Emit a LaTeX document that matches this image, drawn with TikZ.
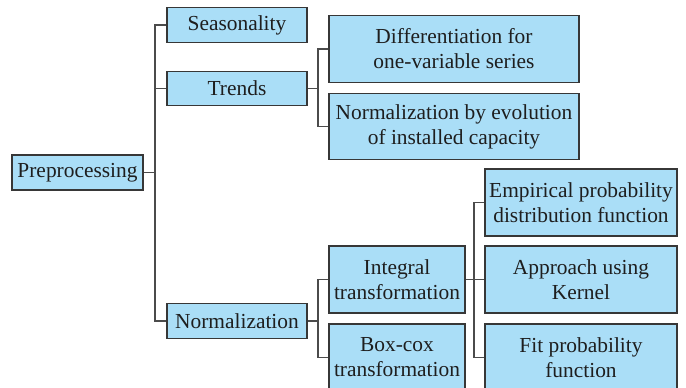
\documentclass[tikz,border=0pt]{standalone}
\usepackage{fontspec}
\setmainfont{Liberation Serif}
\definecolor{boxfill}{RGB}{170,222,247}
\definecolor{boxline}{RGB}{55,55,55}
\definecolor{linkgray}{RGB}{75,75,75}
\definecolor{textgray}{RGB}{30,30,30}
\tikzset{
  box/.style={draw=boxline, fill=boxfill, line width=0.65pt, inner sep=0pt,
    align=center, text=textgray, font=\fontsize{10.7}{12.5}\selectfont},
  small/.style={box, minimum width=70pt, minimum height=17.2pt},
  wide/.style={box, minimum width=125pt, minimum height=33.3pt},
  mid/.style={box, minimum width=68pt, minimum height=33.5pt},
  right/.style={box, minimum width=96pt, minimum height=33.5pt},
  conn/.style={draw=linkgray, line width=0.8pt},
}
\begin{document}
\begin{tikzpicture}[x=0.5pt, y=-0.5pt]
  \useasboundingbox (0,0) rectangle (686,387);
  \clip (0,0) rectangle (686,387);

  % junction columns
  \coordinate (j1) at (155,0);
  \coordinate (j2) at (318,0);
  \coordinate (j3) at (474,0);

  % level 0
  \node[box, minimum width=65.5pt, minimum height=17.5pt] (pre) at (77.5,172.5) {Preprocessing};

  % level 1
  \node[small] (seas)  at (237,25)    {Seasonality};
  \node[small] (trend) at (237,88.5)  {Trends};
  \node[small] (norm)  at (237,321)   {Normalization};

  % level 2
  \node[wide] (diff) at (454,49)    {Differentiation for\\one-variable series};
  \node[wide] (evol) at (454,126.5) {Normalization by evolution\\of installed capacity};
  \node[mid] (integ)  at (397,279.5) {Integral\\transformation};
  \node[mid] (boxcox) at (397,357.5) {Box-cox\\transformation};

  % level 3
  \node[right] (emp)  at (581,202.5) {Empirical probability\\distribution function};
  \node[right] (kern) at (581,279.5) {Approach using\\Kernel};
  \node[right] (fit)  at (581,357.5) {Fit probability\\function};

  % connectors
  \draw[conn] (pre.east) -- (pre.east -| j1);
  \draw[conn] (seas.west) -| (j1 |- norm.west) -- (norm.west);
  \draw[conn] (trend.west) -- (trend.west -| j1);

  \draw[conn] (trend.east) -- (trend.east -| j2);
  \draw[conn] (diff.west) -| (j2 |- evol.west) -- (evol.west);

  \draw[conn] (norm.east) -- (norm.east -| j2);
  \draw[conn] (integ.west) -| (j2 |- boxcox.west) -- (boxcox.west);

  \draw[conn] (integ.east) -- (kern.west);
  \draw[conn] (emp.west) -| (j3 |- fit.west) -- (fit.west);
\end{tikzpicture}
\end{document}
